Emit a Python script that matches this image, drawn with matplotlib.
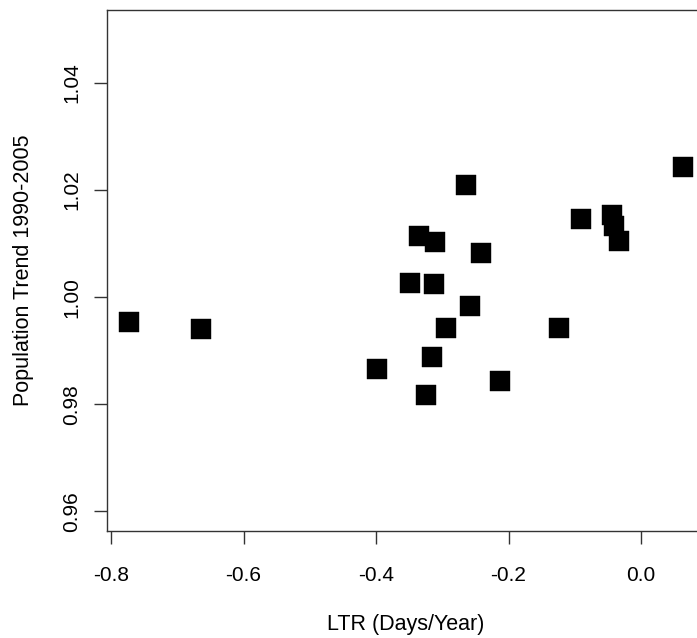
import matplotlib
matplotlib.use("Agg")
import matplotlib.pyplot as plt
import numpy as np

# Data
ltr = [-0.7731, -0.6647, -0.3988, -0.3243, -0.3485, -0.3353, -0.3162, -0.3122,
       -0.3107, -0.2941, -0.2648, -0.2586, -0.2421, -0.2134, -0.1239, -0.0902,
       -0.0441, -0.0411, -0.0337, 0.0631]
trend = [0.9954, 0.9940, 0.9865, 0.9817, 1.0026, 1.0115, 0.9888, 1.0025,
         1.0102, 0.9942, 1.0209, 0.9983, 1.0083, 0.9843, 0.9942, 1.0146,
         1.0153, 1.0133, 1.0104, 1.0243]
x_ticks = [-0.8, -0.6, -0.4, -0.2, 0.0]
y_ticks = [0.96, 0.98, 1.00, 1.02, 1.04]
y_range = [0.96, 1.05]
x_label = "LTR (Days/Year)"
y_label = "Population Trend 1990-2005"

plt.rcParams['font.family'] = ['Liberation Sans', 'DejaVu Sans']

fig = plt.figure(figsize=(6.97, 6.38), dpi=100)
ax = fig.add_axes([0.15308, 0.16818, 0.85839, 0.81614])

ax.plot(ltr, trend, linestyle='none', marker='s', markersize=13.9,
        markerfacecolor='black', markeredgecolor='black', markeredgewidth=0.3,
        color='black')

# R-style 4% axis extension
xmin, xmax = min(ltr), max(ltr)
xr = xmax - xmin
ax.set_xlim(xmin - 0.04 * xr, xmax + 0.04 * xr)
yr = y_range[1] - y_range[0]
ax.set_ylim(y_range[0] - 0.04 * yr, y_range[1] + 0.04 * yr)

ax.set_xticks(x_ticks)
ax.set_xticklabels([f"{v:.1f}" for v in x_ticks])
ax.set_yticks(y_ticks)
ax.set_yticklabels([f"{v:.2f}" for v in y_ticks], rotation=90, va='center')

for s in ax.spines.values():
    s.set_color('#333333')
    s.set_linewidth(1.0)

ax.tick_params(axis='x', length=9.1, width=1.0, color='#333333', labelsize=15,
               pad=16, labelcolor='black')
ax.tick_params(axis='y', length=9.1, width=1.0, color='#333333', labelsize=15,
               pad=9, labelcolor='black')

ax.set_xlabel(x_label, fontsize=15.5, labelpad=21.5)
ax.set_ylabel(y_label, fontsize=15.5, labelpad=20.5)

fig.savefig("out.png", dpi=100)
